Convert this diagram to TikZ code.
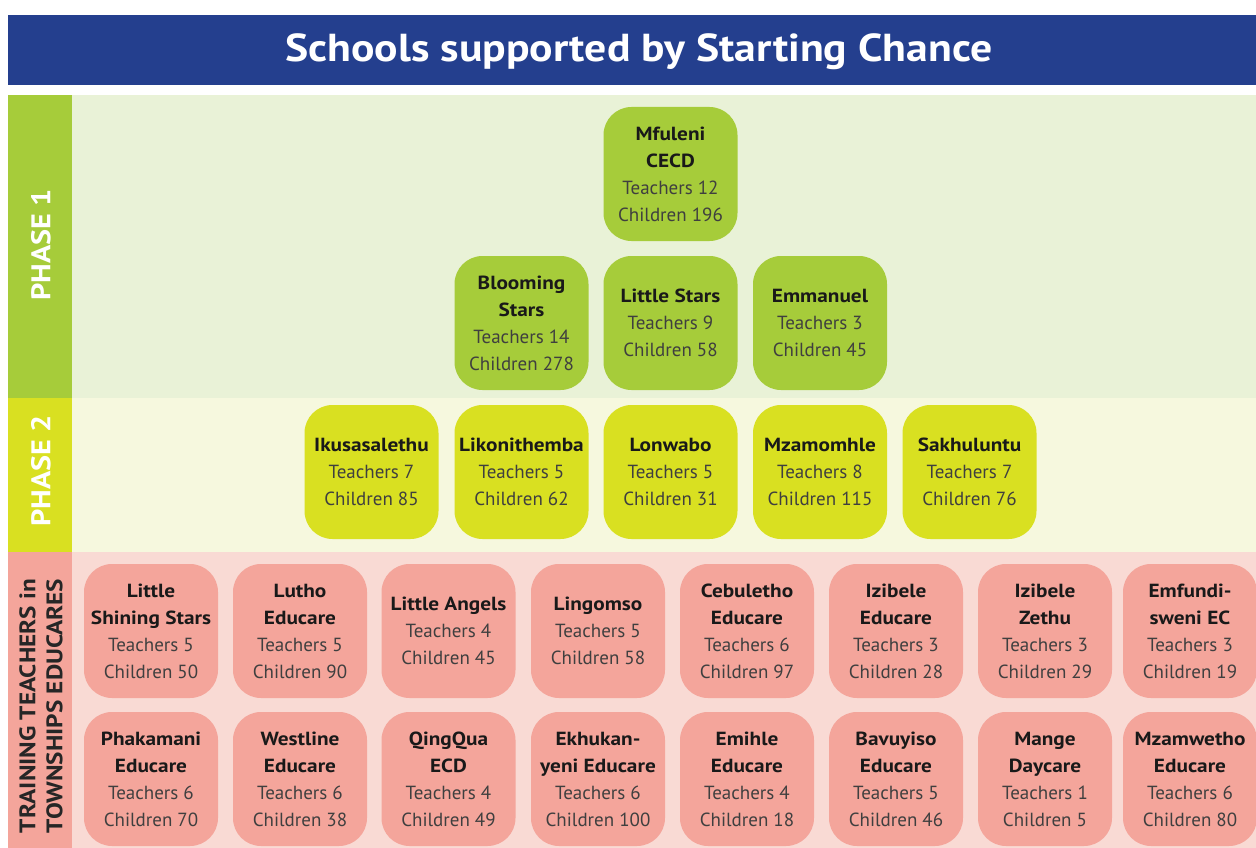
\documentclass[tikz,border=0pt]{standalone}
\usepackage{fontspec}
\setmainfont{PT Sans}[BoldFeatures={FakeStretch=1.12}]
\usetikzlibrary{positioning}
\definecolor{titleblue}{HTML}{243F8E}
\definecolor{phaseonebar}{HTML}{A6CC3A}
\definecolor{phaseonebg}{HTML}{E9F2D7}
\definecolor{phasetwobar}{HTML}{D9E021}
\definecolor{phasetwobg}{HTML}{F6F8DE}
\definecolor{trainbar}{HTML}{F4A59B}
\definecolor{trainbg}{HTML}{F9DAD4}
\definecolor{numgray}{HTML}{3F3F3F}
\newcommand{\school}[3]{\textbf{#1}\\{\color{numgray}Teachers #2}\\{\color{numgray}Children #3}}
\tikzset{
    school/.style={
        rounded corners=28pt,
        minimum width=134pt,
        minimum height=134pt,
        inner sep=0pt,
        align=center,
        text=black!90,
        font=\fontsize{19}{27}\selectfont},
    phaseone/.style={school, fill=phaseonebar},
    phasetwo/.style={school, fill=phasetwobar},
    training/.style={school, fill=trainbar},
    sidelabel/.style={
        rotate=90,
        align=center,
        font=\bfseries}}

\begin{document}
\begin{tikzpicture}[x=1pt,y=-1pt]
        \useasboundingbox (0,0) rectangle (1256,848);
        % title
        \fill[titleblue] (8,15) rectangle (1256,85);
        \node[text=white, font=\fontsize{39}{44}\selectfont\bfseries] (title) at (639,52) {Schools supported by Starting Chance};

        % bands
        \fill[phaseonebg] (8,95) rectangle (1256,398);
        \fill[phaseonebar] (8,95) rectangle (72,398);
        \fill[phasetwobg] (8,398) rectangle (1256,552);
        \fill[phasetwobar] (8,398) rectangle (72,552);
        \fill[trainbg] (8,552) rectangle (1256,848);
        \fill[trainbar] (8,552) rectangle (72,848);

        \node[sidelabel, text=white, font=\fontsize{27}{32}\selectfont\bfseries] (p1) at (41,245) {PHASE 1};
        \node[sidelabel, text=white, font=\fontsize{27}{32}\selectfont\bfseries] (p2) at (41,471) {PHASE 2};
        \node[sidelabel, text=black!85, font=\fontsize{22.5}{27}\selectfont\bfseries] (tr) at (41,706) {TRAINING TEACHERS in\\TOWNSHIPS EDUCARES};

        % phase 1
        \node[phaseone] (mfuleni) at (670.5,174) {\textbf{Mfuleni}\\\school{CECD}{12}{196}};
        \node[phaseone] (blooming) at (521.5,323) {\textbf{Blooming}\\\school{Stars}{14}{278}};
        \node[phaseone] (littlestars) at (670.5,323) {\school{Little Stars}{9}{58}};
        \node[phaseone] (emmanuel) at (820,323) {\school{Emmanuel}{3}{45}};

        % phase 2
        \node[phasetwo] (ikusa) at (371.5,472) {\school{Ikusasalethu}{7}{85}};
        \node[phasetwo] (likoni) at (521.5,472) {\school{Likonithemba}{5}{62}};
        \node[phasetwo] (lonwabo) at (670.5,472) {\school{Lonwabo}{5}{31}};
        \node[phasetwo] (mzamo) at (820,472) {\school{Mzamomhle}{8}{115}};
        \node[phasetwo] (sakhu) at (969.5,472) {\school{Sakhuluntu}{7}{76}};

        % training, first row
        \node[training] (shining) at (151,631) {\textbf{Little}\\\school{Shining Stars}{5}{50}};
        \node[training] (lutho) at (300,631) {\textbf{Lutho}\\\school{Educare}{5}{90}};
        \node[training] (angels) at (448.5,631) {\school{Little Angels}{4}{45}};
        \node[training] (lingomso) at (598,631) {\school{Lingomso}{5}{58}};
        \node[training] (cebuletho) at (747,631) {\textbf{Cebuletho}\\\school{Educare}{6}{97}};
        \node[training] (izibele) at (896,631) {\textbf{Izibele}\\\school{Educare}{3}{28}};
        \node[training] (zethu) at (1045,631) {\textbf{Izibele}\\\school{Zethu}{3}{29}};
        \node[training] (emfundi) at (1190,631) {\textbf{Emfundi-}\\\school{sweni EC}{3}{19}};

        % training, second row
        \node[training] (phakamani) at (151,779) {\textbf{Phakamani}\\\school{Educare}{6}{70}};
        \node[training] (westline) at (300,779) {\textbf{Westline}\\\school{Educare}{6}{38}};
        \node[training] (qingqua) at (448.5,779) {\textbf{QingQua}\\\school{ECD}{4}{49}};
        \node[training] (ekhukan) at (598,779) {\textbf{Ekhukan-}\\\school{yeni Educare}{6}{100}};
        \node[training] (emihle) at (747,779) {\textbf{Emihle}\\\school{Educare}{4}{18}};
        \node[training] (bavuyiso) at (896,779) {\textbf{Bavuyiso}\\\school{Educare}{5}{46}};
        \node[training] (mange) at (1045,779) {\textbf{Mange}\\\school{Daycare}{1}{5}};
        \node[training] (mzamwetho) at (1190,779) {\textbf{Mzamwetho}\\\school{Educare}{6}{80}};
\end{tikzpicture}
\end{document}
